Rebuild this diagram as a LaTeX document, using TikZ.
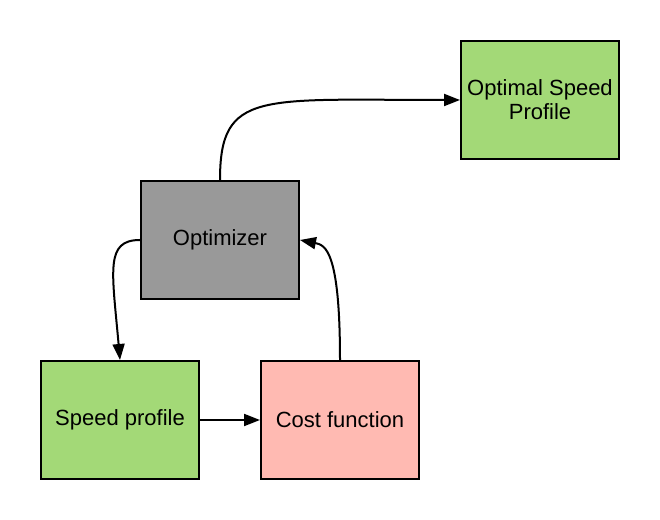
\documentclass[tikz,border=0pt]{standalone}
\usepackage{fontspec}
\setmainfont{Liberation Sans}
\usetikzlibrary{arrows.meta}
\definecolor{boxgreen}{HTML}{A3D977}
\definecolor{boxgray}{HTML}{999999}
\definecolor{boxpink}{HTML}{FFBAB2}
\begin{document}
\begin{tikzpicture}[x = .75pt, y = .75pt,
    block/.style = {draw, line width = 1.5pt, minimum width = 118.5pt,
      minimum height = 88.5pt, align = center,
      font = \fontsize{16.5}{18}\selectfont},
    link/.style = {line width = 1.5pt, -{Triangle[length = 12pt, width = 9pt]}}]
    \useasboundingbox (0,0) rectangle (660,520);
    \node [block, fill = boxgreen] (osp) at (540,420) {Optimal Speed\\Profile};
    \node [block, fill = boxgray] (opt) at (220,280) {Optimizer};
    \node [block, fill = boxgreen] (sp) at (120,100) {Speed profile};
    \node [block, fill = boxpink] (cf) at (340,100) {Cost function};
    \draw [link] (opt.north) .. controls +(0,90) and +(-200,0) .. (osp.west);
    \draw [link] (opt.west) .. controls +(-35,0) and +(-8,90) .. (sp.north);
    \draw [link] (sp) -- (cf);
    \draw [link] (cf.north) .. controls +(0,110) and +(25,-5) .. (opt.east);
  \end{tikzpicture}
\end{document}
